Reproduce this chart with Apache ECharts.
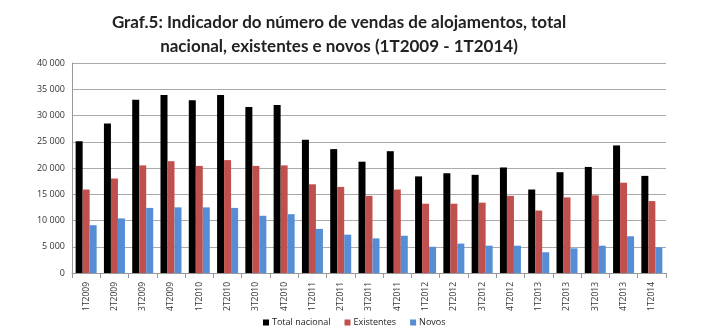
<!DOCTYPE html>
<html>
<head>
<meta charset="utf-8">
<script src="https://cdn.jsdelivr.net/npm/echarts@6/dist/echarts.min.js"></script>
<style>
  html, body { margin: 0; padding: 0; background: #fff; }
  #chart { width: 712px; height: 326px; }
</style>
</head>
<body>
<div id="chart"></div>
<script>
// trimestres
const categories = ['1T2009', '2T2009', '3T2009', '4T2009', '1T2010', '2T2010', '3T2010', '4T2010',
  '1T2011', '2T2011', '3T2011', '4T2011', '1T2012', '2T2012', '3T2012', '4T2012',
  '1T2013', '2T2013', '3T2013', '4T2013', '1T2014']

const totalNacional = [25100, 28500, 33000, 33900, 32900, 33900, 31600, 32000,
  25400, 23600, 21200, 23200, 18400, 19000, 18700, 20100,
  15900, 19200, 20200, 24300, 18500]
const existentes = [15900, 18000, 20500, 21300, 20400, 21500, 20400, 20500,
  16900, 16400, 14700, 15900, 13200, 13200, 13400, 14700,
  11900, 14400, 14800, 17200, 13700]
const novos = [9100, 10400, 12400, 12500, 12500, 12400, 10900, 11200,
  8400, 7300, 6600, 7100, 5000, 5600, 5200, 5200,
  3950, 4700, 5200, 7000, 4900]

const yTicks = [0, 5000, 10000, 15000, 20000, 25000, 30000, 35000, 40000]

function fmt(v) {
  return String(v).replace(/\B(?=(\d{3})+(?!\d))/g, ' ')
}

const chart = echarts.init(document.getElementById('chart'), null, {renderer: 'canvas'})

const bar = (name, data, color) => ({
  name: name,
  type: 'bar',
  data: data,
  barWidth: 7,
  barGap: '0%',
  itemStyle: {color: color}
})

chart.setOption({
  animation: false,
  textStyle: {fontFamily: 'Open Sans'},
  title: {
    text: 'Graf.5: Indicador do número de vendas de alojamentos, total\nnacional, existentes e novos (1T2009 - 1T2014)',
    left: 334,
    textAlign: 'center',
    top: 6,
    textStyle: {fontSize: 17, fontWeight: 'bold', color: '#222', lineHeight: 24, fontFamily: 'Lato'}
  },
  legend: {
    bottom: -6,
    left: 258,
    itemWidth: 6,
    itemHeight: 6,
    itemGap: 14,
    icon: 'rect',
    textStyle: {fontSize: 9, color: '#222', padding: [0, 0, 0, -2]},
    data: ['Total nacional', 'Existentes', 'Novos']
  },
  grid: {left: 72, right: 46, top: 63, bottom: 53},
  xAxis: {
    type: 'category',
    data: categories,
    axisLine: {lineStyle: {color: '#999'}},
    axisTick: {show: true, lineStyle: {color: '#999'}},
    axisLabel: {rotate: 90, fontSize: 8.5, color: '#333', margin: 9}
  },
  yAxis: {
    type: 'value',
    min: yTicks[0],
    max: yTicks[yTicks.length - 1],
    interval: 5000,
    axisLine: {show: true, lineStyle: {color: '#999'}},
    axisTick: {show: false},
    splitLine: {lineStyle: {color: '#aaa'}},
    axisLabel: {fontSize: 9, color: '#333', margin: 7, formatter: v => fmt(v)}
  },
  series: [
    bar('Total nacional', totalNacional, '#000000'),
    bar('Existentes', existentes, '#C0504D'),
    bar('Novos', novos, '#558ED5')
  ]
})
</script>
</body>
</html>
